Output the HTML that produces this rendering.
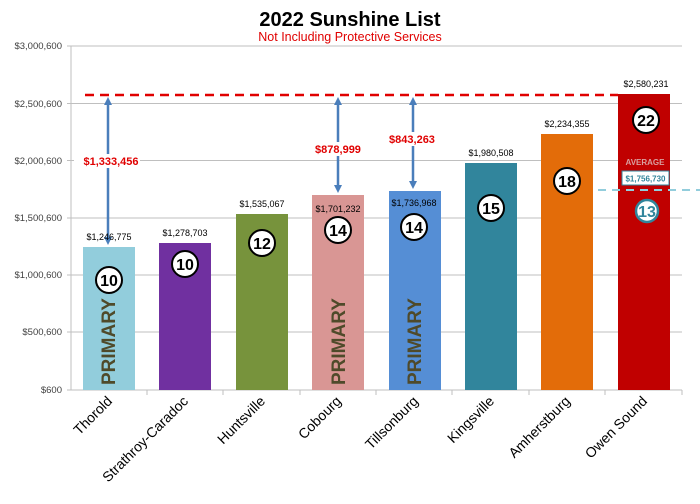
<!DOCTYPE html>
<html><head><meta charset="utf-8"><style>
body{margin:0;background:#fff}
svg{display:block;font-family:"Liberation Sans",Arial,sans-serif}
</style></head><body>
<svg width="700" height="504" viewBox="0 0 700 504" xmlns="http://www.w3.org/2000/svg">
<defs>
<marker id="ah" markerWidth="8" markerHeight="8" refX="4" refY="4" orient="auto-start-reverse" markerUnits="userSpaceOnUse"><path d="M0,0 L8,4 L0,8 Z" fill="#4a7ebb"/></marker>
</defs>
<text x="350" y="26" text-anchor="middle" font-size="20" font-weight="bold" fill="#000">2022 Sunshine List</text>
<text x="350" y="41" text-anchor="middle" font-size="12.5" fill="#e00000">Not Including Protective Services</text>
<g stroke="#bfbfbf" stroke-width="1">
<line x1="67" y1="46" x2="682" y2="46"/><line x1="67" y1="103.5" x2="682" y2="103.5"/>
<line x1="67" y1="160.5" x2="682" y2="160.5"/><line x1="67" y1="218" x2="682" y2="218"/>
<line x1="67" y1="275" x2="682" y2="275"/><line x1="67" y1="332" x2="682" y2="332"/>
<line x1="67" y1="390" x2="682" y2="390"/><line x1="71" y1="46" x2="71" y2="390"/>
<line x1="147" y1="390" x2="147" y2="395"/><line x1="223" y1="390" x2="223" y2="395"/><line x1="300" y1="390" x2="300" y2="395"/><line x1="376" y1="390" x2="376" y2="395"/><line x1="452" y1="390" x2="452" y2="395"/><line x1="529" y1="390" x2="529" y2="395"/><line x1="605" y1="390" x2="605" y2="395"/><line x1="682" y1="390" x2="682" y2="395"/>
</g>
<g font-size="9.5" fill="#404040" text-anchor="end">
<text x="62" y="49">$3,000,600</text><text x="62" y="107">$2,500,600</text><text x="62" y="164">$2,000,600</text><text x="62" y="221">$1,500,600</text><text x="62" y="278">$1,000,600</text><text x="62" y="335">$500,600</text><text x="62" y="393">$600</text>
</g>
<rect x="83" y="247" width="52" height="143" fill="#92cddc"/>
<rect x="159" y="243" width="52" height="147" fill="#7030a0"/>
<rect x="236" y="214" width="52" height="176" fill="#77933c"/>
<rect x="312" y="195" width="52" height="195" fill="#d99694"/>
<rect x="389" y="191" width="52" height="199" fill="#558ed5"/>
<rect x="465" y="163" width="52" height="227" fill="#31859c"/>
<rect x="541" y="134" width="52" height="256" fill="#e36c09"/>
<rect x="618" y="94" width="52" height="296" fill="#c00000"/>
<line x1="85" y1="95" x2="618" y2="95" stroke="#e00000" stroke-width="2.5" stroke-dasharray="9,6"/>
<line x1="598" y1="190" x2="700" y2="190" stroke="#92cddc" stroke-width="2" stroke-dasharray="8,6"/>
<g stroke="#4a7ebb" stroke-width="2.5" fill="none">
<line x1="108" y1="101" x2="108" y2="241" marker-start="url(#ah)" marker-end="url(#ah)"/>
<line x1="338" y1="101" x2="338" y2="189" marker-start="url(#ah)" marker-end="url(#ah)"/>
<line x1="413" y1="101" x2="413" y2="185" marker-start="url(#ah)" marker-end="url(#ah)"/>
</g>
<rect x="74" y="154" width="66" height="14" fill="#fff"/>
<rect x="306" y="142" width="62" height="14" fill="#fff"/>
<rect x="383" y="132" width="62" height="14" fill="#fff"/>
<g font-size="11" font-weight="bold" fill="#e00000" text-anchor="middle">
<text x="111" y="165">$1,333,456</text><text x="338" y="153">$878,999</text><text x="412" y="143">$843,263</text>
</g>
<g font-size="9" fill="#000" text-anchor="middle">
<text x="109" y="240">$1,246,775</text><text x="185" y="236">$1,278,703</text><text x="262" y="207">$1,535,067</text>
<text x="338" y="212">$1,701,232</text><text x="414" y="206">$1,736,968</text><text x="491" y="156">$1,980,508</text>
<text x="567" y="127">$2,234,355</text><text x="646" y="87">$2,580,231</text>
</g>
<g stroke="#000" stroke-width="2" fill="#fff">
<circle cx="109" cy="280" r="13"/><circle cx="185" cy="264" r="13"/><circle cx="262" cy="243" r="13"/><circle cx="338" cy="230" r="13"/><circle cx="414" cy="227" r="13"/><circle cx="491" cy="208" r="13"/><circle cx="567" cy="181" r="13"/><circle cx="646" cy="120" r="13"/>
</g>
<circle cx="647" cy="211" r="11" stroke="#31859c" stroke-width="2.5" fill="#fff"/>
<g font-size="16" font-weight="bold" fill="#000" text-anchor="middle">
<text x="109" y="286">10</text><text x="185" y="270">10</text><text x="262" y="249">12</text><text x="338" y="236">14</text><text x="414" y="233">14</text><text x="491" y="214">15</text><text x="567" y="187">18</text><text x="646" y="126">22</text>
</g>
<text x="647" y="217" font-size="16" font-weight="bold" fill="#31859c" text-anchor="middle">13</text>
<text x="645" y="165" font-size="8" font-weight="bold" fill="#d9a0a0" text-anchor="middle">AVERAGE</text>
<rect x="622" y="171" width="47" height="14" fill="#fff" stroke="#31859c" stroke-width="1"/>
<text x="645.5" y="181.5" font-size="8" font-weight="bold" fill="#31859c" text-anchor="middle">$1,756,730</text>
<g font-size="19" font-weight="bold" fill="#4f4a2a">
<text transform="translate(115,385) rotate(-90)">PRIMARY</text>
<text transform="translate(345,385) rotate(-90)">PRIMARY</text>
<text transform="translate(421,385) rotate(-90)">PRIMARY</text>
</g>
<g font-size="14" fill="#000" text-anchor="end">
<text transform="translate(113,402) rotate(-45)">Thorold</text>
<text transform="translate(189,402) rotate(-45)">Strathroy-Caradoc</text>
<text transform="translate(266,402) rotate(-45)">Huntsville</text>
<text transform="translate(342,402) rotate(-45)">Cobourg</text>
<text transform="translate(419,402) rotate(-45)">Tillsonburg</text>
<text transform="translate(495,402) rotate(-45)">Kingsville</text>
<text transform="translate(571,402) rotate(-45)">Amherstburg</text>
<text transform="translate(648,402) rotate(-45)">Owen Sound</text>
</g>
</svg>
</body></html>
